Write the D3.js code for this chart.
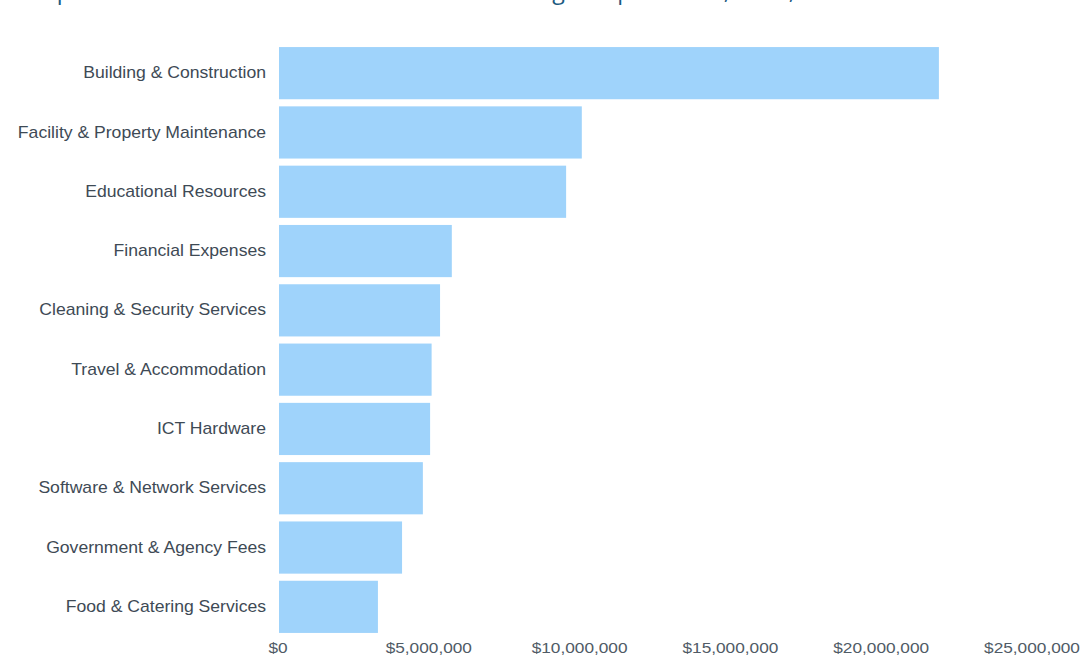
<!DOCTYPE html>
<html>
<head>
<meta charset="utf-8">
<script src="https://cdn.jsdelivr.net/npm/d3@7"></script>
<style>
  html, body { margin: 0; padding: 0; background: #ffffff; }
  svg { display: block; }
</style>
</head>
<body>
<svg id="chart" width="1087" height="668"></svg>
<script>
// Spend per category (AUD)
const categories = [
  "Building & Construction",
  "Facility & Property Maintenance",
  "Educational Resources",
  "Financial Expenses",
  "Cleaning & Security Services",
  "Travel & Accommodation",
  "ICT Hardware",
  "Software & Network Services",
  "Government & Agency Fees",
  "Food & Catering Services"
];
const spend = [21880000, 10040000, 9520000, 5730000, 5340000, 5060000, 5010000, 4770000, 4080000, 3280000];
const tickValues = [0, 5000000, 10000000, 15000000, 20000000, 25000000];
const titleText = "Top 10 Areas of Total School Recurrent Cost Budget Expenditure, 2023, AUD";

const data = categories.map((c, i) => ({ category: c, value: spend[i] }));

const svg = d3.select("#chart");

const x = d3.scaleLinear().domain([0, 25000000]).range([279, 1033]);
const y = d3.scaleBand()
  .domain(categories)
  .range([43.5, 636.5])
  .paddingInner(0.12)
  .paddingOuter(0.06);

// Title (runs along the very top edge of the frame)
svg.append("text")
  .attr("x", 30)
  .attr("y", -1.5)
  .attr("font-family", "'Open Sans', sans-serif")
  .attr("font-size", 23.2)
  .attr("fill", "#1d5a80")
  .text(titleText);

// Bars
svg.append("g")
  .selectAll("rect")
  .data(data)
  .join("rect")
  .attr("x", x(0))
  .attr("y", d => y(d.category))
  .attr("width", d => x(d.value) - x(0))
  .attr("height", y.bandwidth())
  .attr("fill", "#9fd3fb");

// Category axis
const yAxis = svg.append("g")
  .attr("transform", "translate(266,0)")
  .call(d3.axisLeft(y).tickSize(0).tickPadding(0));
yAxis.select(".domain").remove();
yAxis.selectAll(".tick")
  .attr("transform", d => `translate(0,${y(d) + y.bandwidth() / 2})`);
yAxis.selectAll(".tick text")
  .attr("x", 0)
  .attr("font-family", "'Liberation Sans', Arial, sans-serif")
  .attr("font-size", 16)
  .attr("fill", "#3e4a55")
  .attr("transform", "scale(1.1,1)");

// Value axis
const xAxis = svg.append("g")
  .attr("transform", "translate(0,642)")
  .call(d3.axisBottom(x)
    .tickValues(tickValues)
    .tickSize(0)
    .tickPadding(0)
    .tickFormat(d => "$" + d3.format(",")(d)));
xAxis.select(".domain").remove();
xAxis.selectAll(".tick text")
  .attr("y", 0)
  .attr("font-family", "'Liberation Sans', Arial, sans-serif")
  .attr("font-size", 15)
  .attr("fill", "#505b66")
  .attr("dy", "0.71em")
  .attr("transform", "scale(1.15,1)");
// keep the stretched labels centred on their ticks
xAxis.selectAll(".tick")
  .attr("transform", d => `translate(${x(d) - 1},0)`);
</script>
</body>
</html>
